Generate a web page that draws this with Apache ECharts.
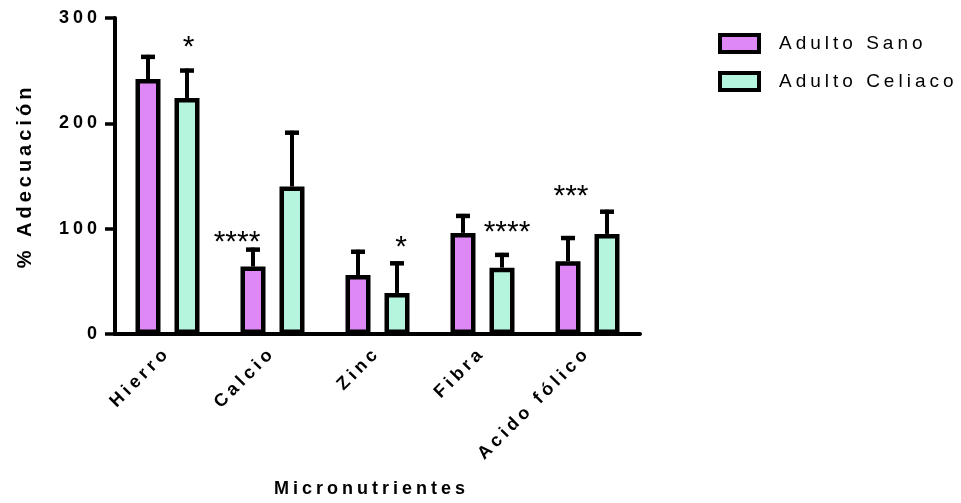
<!DOCTYPE html>
<html>
<head>
<meta charset="utf-8">
<script src="https://cdn.jsdelivr.net/npm/echarts@6/dist/echarts.min.js"></script>
<style>
  html, body { margin: 0; padding: 0; background: #fff; }
  #chart { width: 961px; height: 503px; }
</style>
</head>
<body>
<div id="chart"></div>
<script>
// Tracked (letter-spaced) lettering for the regular text sizes;
// large glyph text (the significance stars) stays untracked.
(function () {
  const proto = CanvasRenderingContext2D.prototype;
  if (!('letterSpacing' in proto)) return;
  const track = (ctx, text) => {
    const m = /(\d+(?:\.\d+)?)px/.exec(ctx.font);
    const size = m ? parseFloat(m[1]) : 12;
    ctx.letterSpacing = (text === '国' || size >= 24) ? '0px' : '4px';
  };
  ['fillText', 'strokeText', 'measureText'].forEach(fn => {
    const orig = proto[fn];
    proto[fn] = function (text) { track(this, text); return orig.apply(this, arguments); };
  });
})();

// ---- data ----
const categories = ['Hierro', 'Calcio', 'Zinc', 'Fibra', 'Acido fólico'];
const seriesNames = ['Adulto Sano', 'Adulto Celiaco'];
const sanoMean = [242, 64, 56, 96, 69];
const sanoSD = [23, 18, 24, 18, 24];
const celiacoMean = [224, 140, 39, 63, 95];
const celiacoSD = [28, 53, 30, 14, 23];
// significance marks: text, which bar of the group, value height
const sigText = ['*', '****', '*', '****', '***'];
const sigBar = [1, 0, 1, 1, 0];
const sigValue = [272, 87, 82, 96, 130];
const yMin = 0, yMax = 300, yStep = 100;

// ---- styling ----
const FONT = '"Liberation Sans", Arial, Helvetica, sans-serif';
const BAR_W = 25;
const BAR_GAP_PX = 14;
const HALF = (BAR_W + BAR_GAP_PX) / 2;
const sigNudge = [1.5, -16, 4, 5, 3];

function errorRender(offset) {
  return function (params, api) {
    const c = api.value(0), m = api.value(1), s = api.value(2);
    const base = api.coord([c, m]);
    const top = api.coord([c, m + s]);
    const x = base[0] + offset;
    return {
      type: 'group',
      children: [
        { type: 'line', shape: { x1: x, y1: base[1], x2: x, y2: top[1] },
          style: { stroke: '#000', lineWidth: 4 } },
        { type: 'line', shape: { x1: x - 7, y1: top[1] + 2, x2: x + 7, y2: top[1] + 2 },
          style: { stroke: '#000', lineWidth: 4.5 } }
      ]
    };
  };
}

function sigRender(params, api) {
  const i = params.dataIndex;
  const p = api.coord([api.value(0), api.value(1)]);
  const x = p[0] + (sigBar[i] === 0 ? -HALF : HALF) + sigNudge[i];
  return {
    type: 'text',
    x: x, y: p[1],
    style: {
      text: sigText[i], fill: '#000',
      font: '30px ' + FONT,
      align: 'center', verticalAlign: 'middle'
    }
  };
}

const chart = echarts.init(document.getElementById('chart'), null, { renderer: 'canvas' });
chart.setOption({
  animation: false,
  backgroundColor: '#fff',
  grid: { left: 115, right: 321, top: 18, bottom: 166, containLabel: false },
  legend: {
    data: seriesNames,
    orient: 'vertical',
    left: 718, top: 33, padding: 0,
    icon: 'rect',
    itemWidth: 39, itemHeight: 17, itemGap: 17,
    itemStyle: { borderColor: '#000', borderWidth: 4 },
    textStyle: { fontFamily: FONT, fontSize: 19, color: '#000', padding: [0, 0, 0, 15] }
  },
  xAxis: {
    type: 'category',
    data: categories,
    name: 'Micronutrientes',
    nameLocation: 'middle',
    nameGap: 146,
    nameTextStyle: { fontFamily: FONT, fontSize: 18, fontWeight: 'bold', color: '#000', padding: [0, 12, 0, 0] },
    axisLine: { lineStyle: { color: '#000', width: 4 } },
    axisTick: { alignWithLabel: true, length: 8, lineStyle: { color: '#000', width: 3.5 } },
    axisLabel: { rotate: 45, margin: 16, fontFamily: FONT, fontSize: 18, fontWeight: 'bold', color: '#000' },
    splitLine: { show: false }
  },
  yAxis: {
    type: 'value',
    min: yMin, max: yMax, interval: yStep,
    name: '% Adecuación',
    nameLocation: 'middle',
    nameRotate: 90,
    nameGap: 80,
    nameTextStyle: { fontFamily: FONT, fontSize: 20, fontWeight: 'bold', color: '#000' },
    axisLine: { show: true, lineStyle: { color: '#000', width: 4 } },
    axisTick: { show: true, length: 10, lineStyle: { color: '#000', width: 3.5 } },
    axisLabel: { margin: 14, fontFamily: FONT, fontSize: 18, fontWeight: 'bold', color: '#000' },
    splitLine: { show: false }
  },
  series: [
    {
      name: seriesNames[0], type: 'bar', data: sanoMean,
      barWidth: BAR_W, barGap: (BAR_GAP_PX / BAR_W * 100) + '%', z: 3,
      itemStyle: { color: '#DD88F4', borderColor: '#000', borderWidth: 4.5 }
    },
    {
      name: seriesNames[1], type: 'bar', data: celiacoMean,
      barWidth: BAR_W, z: 3,
      itemStyle: { color: '#B5F5DE', borderColor: '#000', borderWidth: 4.5 }
    },
    {
      type: 'custom', z: 2, clip: false,
      renderItem: errorRender(-HALF),
      data: sanoMean.map((m, i) => [i, m, sanoSD[i]])
    },
    {
      type: 'custom', z: 2, clip: false,
      renderItem: errorRender(HALF),
      data: celiacoMean.map((m, i) => [i, m, celiacoSD[i]])
    },
    {
      type: 'custom', z: 4, clip: false,
      renderItem: sigRender,
      data: sigValue.map((v, i) => [i, v])
    }
  ]
});
</script>
</body>
</html>
